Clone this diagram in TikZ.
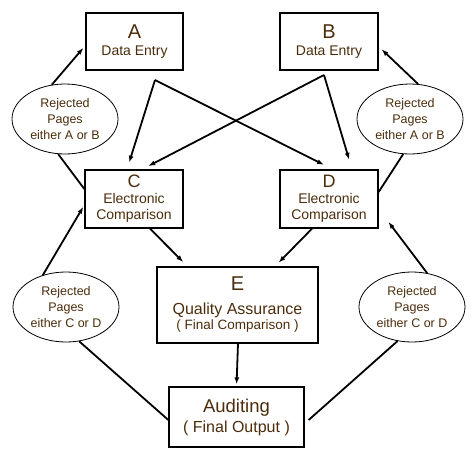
\documentclass[tikz,border=0pt]{standalone}
\usepackage{fontspec}
\setmainfont{Liberation Sans}
\usetikzlibrary{shapes.geometric,arrows.meta}
\definecolor{inkbrown}{RGB}{75,45,12}

\begin{document}
\begin{tikzpicture}[x=1pt,y=-1pt,
	box/.style={draw,line width=1.3pt,inner sep=0pt,align=center,text=inkbrown,
		font=\fontsize{14}{16}\selectfont},
	reject/.style={draw,ellipse,line width=0.8pt,minimum width=106pt,minimum height=70pt,
		inner sep=0pt,align=center,text=inkbrown,font=\fontsize{12.5}{16}\selectfont},
	flow/.style={line width=1.8pt,-{Latex[length=7pt,width=5pt]}},
	link/.style={line width=1.8pt}]
	\useasboundingbox (0,0) rectangle (475,475);

	% data entry
	\node[box,minimum width=97pt,minimum height=57pt] (A) at (134.5,41.5)
		{{\fontsize{20}{20}\selectfont A}\\[1pt]Data Entry};
	\node[box,minimum width=98pt,minimum height=57pt] (B) at (329,41.5)
		{{\fontsize{20}{20}\selectfont B}\\[1pt]Data Entry};

	% comparison
	\node[box,minimum width=98pt,minimum height=58pt] (C) at (134,199)
		{{\fontsize{18}{18}\selectfont C}\\Electronic\\Comparison};
	\node[box,minimum width=98pt,minimum height=58pt] (D) at (329,199)
		{{\fontsize{18}{18}\selectfont D}\\Electronic\\Comparison};
	\node[box,minimum width=161pt,minimum height=76pt] (E) at (237.5,305)
		{{\fontsize{20}{20}\selectfont E}\\[8pt]{\fontsize{16}{16}\selectfont Quality Assurance}\\[-1pt]
		{\fontsize{13.5}{16}\selectfont ( Final Comparison )}};
	\node[box,minimum width=135pt,minimum height=60pt] (F) at (236.5,417)
		{{\fontsize{18.5}{18.5}\selectfont Auditing}\\[4pt]{\fontsize{16}{16}\selectfont ( Final Output )}};

	% rejected pages
	\node[reject] (e1) at (65,119) {Rejected\\Pages\\either A or B};
	\node[reject] (e2) at (410,119) {Rejected\\Pages\\either A or B};
	\node[reject] (e3) at (66,307) {Rejected\\Pages\\either C or D};
	\node[reject] (e4) at (412,307) {Rejected\\Pages\\either C or D};

	\coordinate (pA) at (155,80);
	\coordinate (pB) at (324,75);

	% cross over
	\draw[flow,shorten >=7pt] (pA) -- ([xshift=-7pt]C.north);
	\draw[flow,shorten >=10pt] (pA) -- ([xshift=4pt]D.north);
	\draw[flow,shorten >=7pt] (pB) -- ([xshift=8pt]C.north);
	\draw[flow,shorten >=10pt] (pB) -- ([xshift=23pt]D.north);

	% returns
	\draw[flow,shorten >=3pt] (e1.111) -- ([yshift=-4pt]A.west);
	\draw[link] ([yshift=10pt]C.west) -- (e1.259);
	\draw[flow,shorten >=4pt] (e2.77) -- ([yshift=-5pt]B.east);
	\draw[link] ([yshift=7pt]D.east) -- (e2.259);
	\draw[flow,shorten >=2pt] (e3.126) -- ([yshift=-6pt]C.west);
	\draw[link] ([yshift=-3pt]F.west) -- (e3.291);
	\draw[flow,shorten >=16pt] (e4.66) -- ([yshift=-10pt]D.east);
	\draw[link] ([yshift=-3pt,xshift=4pt]F.east) -- (e4.247);

	% to quality assurance
	\draw[flow,shorten >=6pt] ([xshift=16pt]C.south) -- ([xshift=-50pt]E.north);
	\draw[flow,shorten >=5pt] ([xshift=-17pt]D.south) -- ([xshift=37.5pt]E.north);
	\draw[flow,shorten >=2pt] ([xshift=0.5pt]E.south) -- (F.north);
\end{tikzpicture}
\end{document}
